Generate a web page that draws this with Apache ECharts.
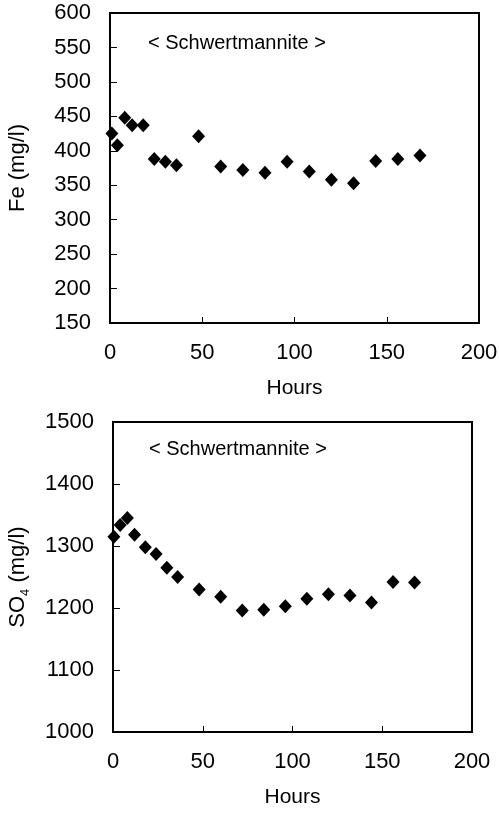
<!DOCTYPE html>
<html>
<head>
<meta charset="utf-8">
<script src="https://cdn.jsdelivr.net/npm/echarts@6/dist/echarts.min.js"></script>
<style>
  html, body { margin: 0; padding: 0; background: #fff; }
  #chart { width: 499px; height: 813px; }
</style>
</head>
<body>
<div id="chart"></div>
<script>
// hours of sampling
const feHours = [1, 4, 8, 12, 18, 24, 30, 36, 48, 60, 72, 84, 96, 108, 120, 132, 144, 156, 168];
const feValues = [425, 408, 448, 437, 437, 388, 384, 379, 421, 377, 372, 368, 384, 370, 358, 353, 385, 388, 393];
const so4Hours = [0.5, 4, 8, 12, 18, 24, 30, 36, 48, 60, 72, 84, 96, 108, 120, 132, 144, 156, 168];
const so4Values = [1315, 1334, 1345, 1318, 1298, 1287, 1265, 1250, 1230, 1218, 1196, 1197, 1203, 1215, 1222, 1220, 1209, 1242, 1241];
const panelLabel = '< Schwertmannite >';

const font = 'Liberation Sans, Arial, Helvetica, sans-serif';

function xAxisFor(gridIndex) {
  return {
    gridIndex: gridIndex,
    type: 'value',
    min: 0,
    max: 200,
    interval: 50,
    name: 'Hours',
    nameLocation: 'middle',
    nameGap: 55,
    nameTextStyle: { color: '#000', fontSize: 21, fontFamily: font },
    axisLine: { lineStyle: { color: '#000', width: 2 } },
    axisTick: { inside: true, length: 6, lineStyle: { color: '#000' } },
    axisLabel: { color: '#000', fontSize: 22, fontFamily: font, margin: 19 },
    splitLine: { show: false }
  };
}

function yAxisFor(gridIndex, min, max, interval, name, gap, rich) {
  return {
    gridIndex: gridIndex,
    type: 'value',
    min: min,
    max: max,
    interval: interval,
    name: name,
    nameLocation: 'middle',
    nameGap: gap,
    nameRotate: 90,
    nameTextStyle: { color: '#000', fontSize: 22, fontFamily: font, rich: rich },
    axisLine: { lineStyle: { color: '#000', width: 2 } },
    axisTick: { inside: true, length: 7, lineStyle: { color: '#000' } },
    axisLabel: { color: '#000', fontSize: 22, fontFamily: font, margin: 19, formatter: v => String(v) },
    splitLine: { show: false }
  };
}

let myChart = echarts.init(document.getElementById('chart'));
let option = {
  animation: false,
  backgroundColor: '#fff',
  grid: [
    { left: 110, top: 13, width: 369, height: 310, show: true, borderColor: '#000', borderWidth: 2, outerBoundsMode: 'none', containLabel: false },
    { left: 113, top: 422, width: 359, height: 310, show: true, borderColor: '#000', borderWidth: 2, outerBoundsMode: 'none', containLabel: false }
  ],
  xAxis: [xAxisFor(0), xAxisFor(1)],
  yAxis: [
    yAxisFor(0, 150, 600, 50, 'Fe (mg/l)', 81),
    yAxisFor(1, 1000, 1500, 100, '{n|SO}{s|4}{n| (mg/l)}', 84, {
      n: { fontSize: 22, fontFamily: font, color: '#000', lineHeight: 26, verticalAlign: 'bottom' },
      s: { fontSize: 13, fontFamily: font, color: '#000', lineHeight: 26, verticalAlign: 'bottom', padding: [0, 0, -3, 0] }
    })
  ],
  graphic: [
    { type: 'text', left: 148, top: 33, style: { text: panelLabel, fontSize: 20, fontFamily: font, fill: '#000' } },
    { type: 'text', left: 149, top: 439, style: { text: panelLabel, fontSize: 20, fontFamily: font, fill: '#000' } }
  ],
  series: [
    {
      type: 'scatter',
      xAxisIndex: 0,
      yAxisIndex: 0,
      symbol: 'diamond',
      symbolSize: [13, 14],
      itemStyle: { color: '#000', opacity: 1 },
      clip: false,
      data: feHours.map((h, i) => [h, feValues[i]])
    },
    {
      type: 'scatter',
      xAxisIndex: 1,
      yAxisIndex: 1,
      symbol: 'diamond',
      symbolSize: [13, 14],
      itemStyle: { color: '#000', opacity: 1 },
      clip: false,
      data: so4Hours.map((h, i) => [h, so4Values[i]])
    }
  ]
};
myChart.setOption(option, true);

window.addEventListener('resize', () => {
  myChart.resize();
});
</script>
</body>
</html>
